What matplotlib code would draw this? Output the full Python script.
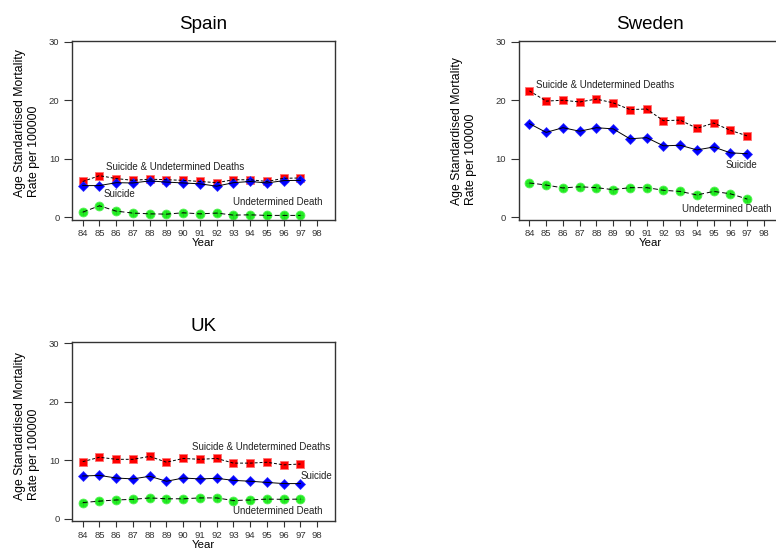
import matplotlib.pyplot as plt
import numpy as np

plt.rcParams['font.family'] = ['Liberation Sans', 'DejaVu Sans']

years = np.arange(84, 98)
xticks = np.arange(84, 99)

# Spain
spain_both = [6.1, 7.1, 6.6, 6.3, 6.5, 6.4, 6.3, 6.1, 5.9, 6.4, 6.4, 6.1, 6.65, 6.7]
spain_suic = [5.4, 5.4, 5.9, 5.85, 6.2, 6.0, 5.85, 5.7, 5.3, 5.9, 6.1, 5.85, 6.25, 6.3]
spain_und = [0.86, 1.95, 1.03, 0.7, 0.57, 0.52, 0.75, 0.57, 0.7, 0.35, 0.4, 0.3, 0.3, 0.3]

# Sweden
sweden_both = [21.6, 19.85, 20.0, 19.7, 20.2, 19.55, 18.4, 18.5, 16.5, 16.6, 15.2, 16.1, 14.85, 13.9]
sweden_suic = [16.0, 14.5, 15.3, 14.7, 15.3, 15.1, 13.4, 13.6, 12.2, 12.3, 11.5, 12.0, 11.0, 10.85]
sweden_und = [5.85, 5.5, 5.0, 5.2, 5.05, 4.7, 5.05, 5.05, 4.6, 4.4, 3.8, 4.4, 4.0, 3.1]

# UK
uk_both = [9.75, 10.5, 10.15, 10.15, 10.65, 9.65, 10.3, 10.15, 10.3, 9.5, 9.5, 9.65, 9.2, 9.35]
uk_suic = [7.3, 7.4, 6.95, 6.8, 7.25, 6.4, 6.95, 6.8, 6.9, 6.55, 6.4, 6.2, 6.0, 6.0]
uk_und = [2.75, 3.0, 3.2, 3.3, 3.55, 3.4, 3.4, 3.55, 3.55, 3.1, 3.2, 3.35, 3.3, 3.35]

lab_both = 'Suicide & Undetermined Deaths'
lab_suic = 'Suicide'
lab_und = 'Undetermined Death'
ylab = 'Age Standardised Mortality\nRate per 100000'

W, H = 776, 549
fig = plt.figure(figsize=(W / 100, H / 100), dpi=100)

# (title, data, axes left px, axes bottom px, label positions, ylabel x px, ylabel bottom px)
panels = [
    ('Spain', (spain_both, spain_suic, spain_und), 72, 219.5,
     [(85.39, 8.55), (85.23, 3.96), (92.99, 2.6)], 27, 197),
    ('Sweden', (sweden_both, sweden_suic, sweden_und), 518.7, 219.5,
     [(84.41, 22.55), (95.7, 8.84), (93.1, 1.38)], 464, 205),
    ('UK', (uk_both, uk_suic, uk_und), 72, 521,
     [(90.5, 12.3), (97.03, 7.36), (92.99, 1.25)], 27, 500),
]

ylim = (-0.4, 30.2)
ax_w = 263
ax_h = (ylim[1] - ylim[0]) / 30 * 175.4

for title, (both, suic, und), left, bottom, labpos, ylx, ylb in panels:
    ax = fig.add_axes([left / W, 1 - bottom / H, ax_w / W, ax_h / H])
    ax.set_xlim(83.36, 99.06)
    ax.set_ylim(*ylim)

    # markers first, black lines on top
    ax.plot(years, both, 's', color='#ff0000', markeredgecolor='#ff7070',
            markersize=5.2, markeredgewidth=0.6, zorder=2)
    ax.plot(years, suic, 'D', color='#0000ff', markeredgecolor='#3030ff',
            markersize=4.6, markeredgewidth=0.5, zorder=2)
    ax.plot(years, und, 'o', color='#22ee22', markeredgecolor='#55f055',
            markersize=6.4, markeredgewidth=0.6, zorder=2)
    ax.plot(years, und, '+', color='#22bb22', markersize=4.5, markeredgewidth=0.4, zorder=3)

    ax.plot(years, both, color='black', linewidth=0.7, dashes=(3, 2), zorder=3)
    ax.plot(years, suic, color='black', linewidth=0.7, zorder=3)
    ax.plot(years, und, color='black', linewidth=0.7, dashes=(5, 3), zorder=3)

    for txt, (tx, ty) in zip([lab_both, lab_suic, lab_und], labpos):
        ax.text(tx, ty, txt, fontsize=7, color='#222222', ha='left', va='center')

    ax.set_xticks(xticks)
    ax.set_xticklabels([str(v) for v in xticks])
    ax.set_yticks([0, 10, 20, 30])
    ax.tick_params(axis='x', direction='out', length=4, width=0.8, pad=3,
                   labelsize=6.8, colors='#333333')
    ax.tick_params(axis='y', direction='out', length=6, width=0.8, pad=3,
                   labelsize=6.8, colors='#333333')
    for s in ax.spines.values():
        s.set_linewidth(1.0)
        s.set_color('#333333')

    ax.set_xlabel('Year', fontsize=8.2, labelpad=0)
    ax.set_title(title, fontsize=13.5, pad=8)

    fig.text(ylx / W, 1 - ylb / H, ylab, rotation=90, fontsize=8.8,
             ha='center', va='bottom', multialignment='left', linespacing=1.25)

fig.savefig('out.png', dpi=100)
